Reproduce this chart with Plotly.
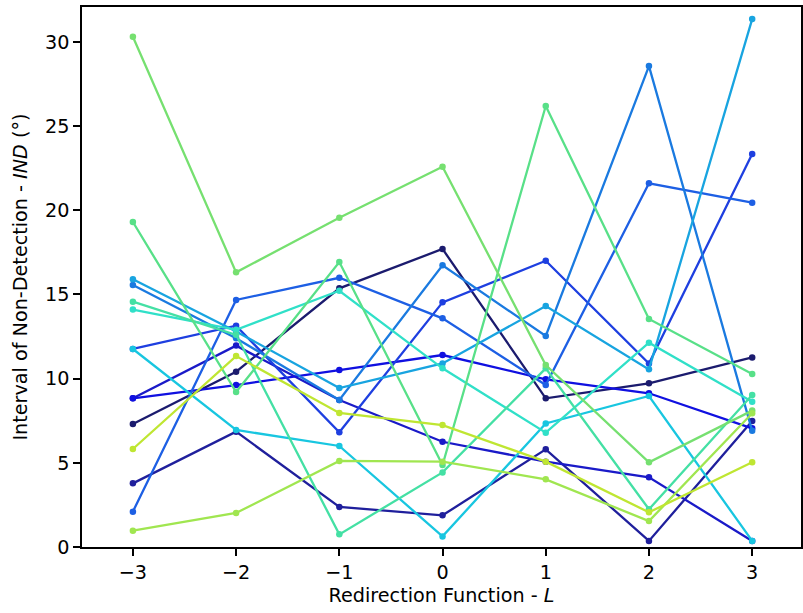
import plotly.graph_objects as go

x_vals = [-3, -2, -1, 0, 1, 2, 3]
x_ticktext = ["\u22123", "\u22122", "\u22121", "0", "1", "2", "3"]
y_ticks = [0, 5, 10, 15, 20, 25, 30]

series_A = [7.3, 10.41, 15.36, 17.7, 8.83, 9.72, 11.26]
series_B = [3.78, 6.85, 2.38, 1.88, 5.8, 0.36, 7.48]
series_C = [8.83, 11.96, 8.73, 6.25, 5.07, 4.14, 0.36]
series_D = [8.83, 9.62, 10.51, 11.4, 9.96, 9.13, 7.05]
series_E = [11.76, 13.14, 6.81, 14.53, 17.0, 10.9, 23.34]
series_F = [2.1, 14.67, 15.99, 13.58, 9.62, 21.6, 20.45]
series_G = [15.56, 12.4, 8.73, 16.73, 12.53, 28.56, 6.9]
series_H = [15.9, 12.8, 9.44, 10.9, 14.31, 10.55, 31.35]
series_I = [11.76, 6.95, 6.0, 0.63, 7.34, 8.97, 0.36]
series_J = [14.1, 12.9, 15.22, 10.61, 6.79, 12.13, 8.63]
series_K = [14.57, 12.6, 0.75, 4.43, 10.61, 2.24, 9.03]
series_L = [19.3, 9.2, 16.92, 4.87, 26.19, 13.54, 10.27]
series_M = [30.3, 16.31, 19.56, 22.58, 10.81, 5.03, 8.1]
series_N = [0.97, 2.02, 5.11, 5.07, 4.02, 1.54, 7.94]
series_O = [5.82, 11.34, 7.96, 7.24, 5.07, 2.06, 5.03]

all_series = [series_A, series_B, series_C, series_D, series_E, series_F, series_G,
              series_H, series_I, series_J, series_K, series_L, series_M, series_N, series_O]
colors = ["#1b1b6e", "#1f1f9c", "#1a1ac8", "#1010e0", "#1e3fe0", "#1d5fe4", "#1a7ae0",
          "#18a4e0", "#18c6e0", "#30e0c8", "#44e0a4", "#58e088", "#76e070", "#a0e650", "#bfe632"]

fig = go.Figure()
for ys, c in zip(all_series, colors):
    fig.add_trace(go.Scatter(
        x=x_vals, y=ys, mode="lines+markers",
        line=dict(color=c, width=2.3),
        marker=dict(color=c, size=6.5),
        showlegend=False,
    ))

font_family = "DejaVu Sans"
fs = 19.2
fig.update_layout(
    width=803, height=613,
    margin=dict(l=82, r=0, t=7, b=66),
    paper_bgcolor="white", plot_bgcolor="white",
    font=dict(family=font_family, size=fs, color="black"),
    xaxis=dict(
        range=[-3.493, 3.473],
        tickmode="array", tickvals=x_vals, ticktext=x_ticktext,
        showline=True, mirror=True, linecolor="black", linewidth=1.5,
        ticks="outside", ticklen=7, tickwidth=1.5, tickcolor="black",
        showgrid=False, zeroline=False,
        title=dict(text="Redirection Function - <i>L</i>", standoff=6,
                   font=dict(family=font_family, size=fs)),
    ),
    yaxis=dict(
        range=[0, 32.07],
        tickmode="array", tickvals=y_ticks,
        showline=True, mirror=True, linecolor="black", linewidth=1.5,
        ticks="outside", ticklen=7, tickwidth=1.5, tickcolor="black",
        showgrid=False, zeroline=False,
        title=dict(text="Interval of Non-Detection - <i>IND</i> (\u00b0)", standoff=12,
                   font=dict(family=font_family, size=fs)),
    ),
)

fig.write_html("out.html", config={"displayModeBar": False},
               post_script="document.body.style.margin='0';")
